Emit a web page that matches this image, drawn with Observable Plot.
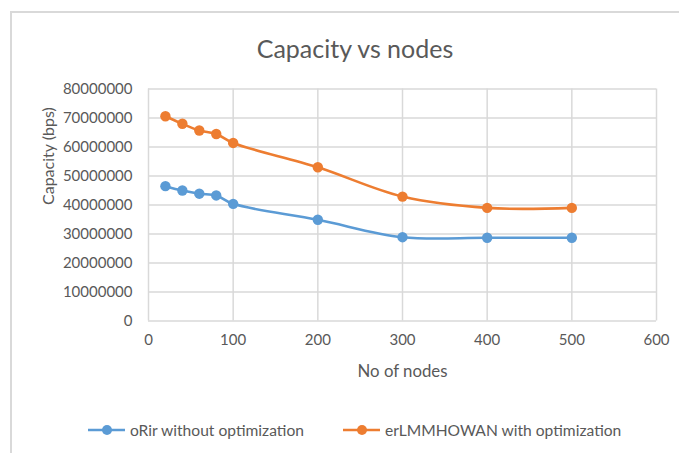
<!DOCTYPE html>
<html>
<head>
<meta charset="utf-8">
<script src="https://cdn.jsdelivr.net/npm/d3@7"></script>
<script src="https://cdn.jsdelivr.net/npm/@observablehq/plot@0.6"></script>
<style>
  html, body { margin: 0; padding: 0; background: #fff; }
  #wrap { position: relative; width: 679px; height: 453px; overflow: hidden; font-family: Lato, "Open Sans", sans-serif; color: #595959; }
  #border { position: absolute; left: 10px; top: 11px; width: 720px; height: 520px; border: 2px solid #d9d9d9; box-sizing: border-box; }
  #title { position: absolute; left: 0; width: 710px; top: 33px; text-align: center; font-size: 25px; line-height: 30px; }
  #chart { position: absolute; left: 0; top: 0; }
  #legend { position: absolute; top: 420px; left: 88px; font-size: 15.6px; line-height: 20px; display: flex; white-space: nowrap; }
  .item { display: flex; align-items: center; }
  .item svg { margin-right: 5px; }
</style>
</head>
<body>
<div id="wrap">
  <div id="border"></div>
  <div id="chart"></div>
  <div id="title">Capacity vs nodes</div>
  <div id="legend"></div>
</div>
<script>
const nodes = [20, 40, 60, 80, 100, 200, 300, 400, 500];
const orir = [46500000, 45000000, 43900000, 43300000, 40400000, 34900000, 28900000, 28700000, 28700000];
const erl = [70600000, 68000000, 65700000, 64500000, 61400000, 53000000, 42900000, 39000000, 39000000];
const seriesNames = ["oRir without optimization", "erLMMHOWAN with optimization"];
const seriesColors = ["#5B9BD5", "#ED7D31"];
const xTicks = [0, 100, 200, 300, 400, 500, 600];
const yTicks = [0, 10000000, 20000000, 30000000, 40000000, 50000000, 60000000, 70000000, 80000000];

const data = [];
nodes.forEach((n, i) => {
  data.push({x: n, y: orir[i], s: seriesNames[0]});
});
nodes.forEach((n, i) => {
  data.push({x: n, y: erl[i], s: seriesNames[1]});
});

const fmt = d3.format("d");
const chart = Plot.plot({
  width: 679,
  height: 453,
  marginLeft: 148,
  marginRight: 23,
  marginTop: 88.5,
  marginBottom: 132.5,
  style: {fontFamily: "Lato, 'Open Sans', sans-serif", fontSize: "15px", color: "#595959", background: "transparent"},
  x: {domain: [0, 600], ticks: xTicks, tickSize: 0, tickPadding: 13, label: null, tickFormat: fmt},
  y: {domain: [0, 80000000], ticks: yTicks, tickSize: 0, tickPadding: 16, label: null, tickFormat: fmt},
  color: {domain: seriesNames, range: seriesColors},
  marks: [
    Plot.gridX(xTicks, {stroke: "#d9d9d9", strokeOpacity: 1, strokeWidth: 1.5}),
    Plot.gridY(yTicks, {stroke: "#d9d9d9", strokeOpacity: 1, strokeWidth: 1.5}),
    Plot.line(data, {x: "x", y: "y", z: "s", stroke: "s", strokeWidth: 2.6, curve: "catmull-rom"}),
    Plot.dot(data, {x: "x", y: "y", fill: "s", r: 5.2}),
    Plot.text(["Capacity (bps)"], {frameAnchor: "left", rotate: -90, dx: -100, fontSize: 16, fill: "#595959"}),
    Plot.text(["No of nodes"], {frameAnchor: "bottom", dy: 56, fontSize: 16.8, fill: "#595959"})
  ]
});
document.getElementById("chart").appendChild(chart);

const legend = document.getElementById("legend");
seriesNames.forEach((name, i) => {
  const item = document.createElement("div");
  item.className = "item";
  if (i > 0) item.style.marginLeft = "39px";
  item.innerHTML = `<svg width="37" height="12"><line x1="0" x2="37" y1="6" y2="6" stroke="${seriesColors[i]}" stroke-width="2.6"/><circle cx="19" cy="6" r="5" fill="${seriesColors[i]}"/></svg><span>${name}</span>`;
  legend.appendChild(item);
});
</script>
</body>
</html>
